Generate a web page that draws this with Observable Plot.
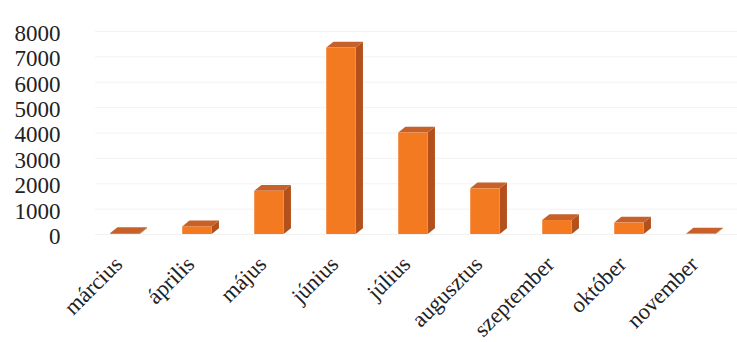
<!DOCTYPE html>
<html>
<head>
<meta charset="utf-8">
<script src="https://cdn.jsdelivr.net/npm/d3@7"></script>
<script src="https://cdn.jsdelivr.net/npm/@observablehq/plot@0.6"></script>
<style>
  html, body { margin: 0; padding: 0; background: #fff; }
  #chart svg { display: block; }
</style>
</head>
<body>
<div id="chart"></div>
<script>
const months = ["március", "április", "május", "június", "július", "augusztus", "szeptember", "október", "november"];
const values = [40, 300, 1700, 7350, 4000, 1800, 550, 450, 20];
const yTicks = [0, 1000, 2000, 3000, 4000, 5000, 6000, 7000, 8000];

// bar geometry in data units (half width, 3D depth offsets)
const hw = 0.205;
const depthX = 0.1;
const depthY = 230;

const data = months.map((m, i) => ({month: m, i, value: values[i]}));
const sides = data.flatMap(d => [
  {i: d.i, x: d.i + 0.5 + hw, y1: 0, y2: d.value},
  {i: d.i, x: d.i + 0.5 + hw + depthX, y1: depthY, y2: d.value + depthY}
]);
const tops = data.flatMap(d => [
  {i: d.i, x: d.i + 0.5 - hw, y1: d.value, y2: d.value},
  {i: d.i, x: d.i + 0.5 - hw + depthX, y1: d.value, y2: d.value + depthY},
  {i: d.i, x: d.i + 0.5 + hw, y1: d.value, y2: d.value + depthY},
  {i: d.i, x: d.i + 0.5 + hw + depthX, y1: d.value + depthY, y2: d.value + depthY}
]);

const chart = Plot.plot({
  width: 737,
  height: 342,
  marginTop: 31,
  marginBottom: 108,
  marginLeft: 89,
  marginRight: 0,
  style: {fontFamily: "'Liberation Serif', 'Times New Roman', serif", background: "#fff"},
  x: {type: "linear", domain: [0, months.length], axis: null},
  y: {domain: [0, 8000], axis: null},
  marks: [
    Plot.ruleY(yTicks, {stroke: "#000", strokeOpacity: 0.05, insetLeft: 6}),
    Plot.text(yTicks, {y: d => d, frameAnchor: "left", dx: -29, textAnchor: "end", fontSize: 23, fill: "#222", text: d => String(d), dy: 2}),
    Plot.areaY(sides, {x: "x", y1: "y1", y2: "y2", z: "i", fill: "#b4501c", curve: "linear"}),
    Plot.areaY(tops, {x: "x", y1: "y1", y2: "y2", z: "i", fill: "#c8602a", curve: "linear"}),
    Plot.rectY(data, {x1: d => d.i + 0.5 - hw, x2: d => d.i + 0.5 + hw, y: "value", fill: "#f47a22"}),
    Plot.text(data, {x: d => d.i + 0.5, text: "month", frameAnchor: "bottom", rotate: -45, textAnchor: "end", lineAnchor: "middle", dx: -7, dy: 26, fontSize: 22.5, fill: "#222"})
  ]
});
document.getElementById("chart").appendChild(chart);
</script>
</body>
</html>
